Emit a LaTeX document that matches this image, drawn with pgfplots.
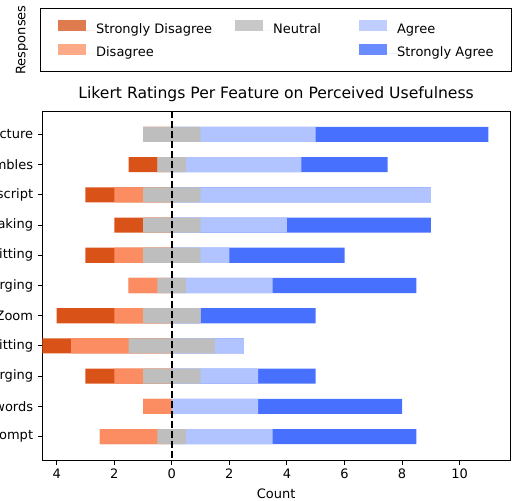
\documentclass[border=0pt]{standalone}
\usepackage{fontspec}
\setmainfont{DejaVu Sans}
\usepackage{pgfplots}
\usepackage{pgfplotstable}
\pgfplotsset{compat=1.18}
\definecolor{sdC}{RGB}{217,83,25}
\definecolor{dC}{RGB}{252,141,98}
\definecolor{nC}{RGB}{190,190,190}
\definecolor{aC}{RGB}{178,196,255}
\definecolor{saC}{RGB}{72,112,255}
\definecolor{sdL}{RGB}{224,122,79}
\definecolor{dL}{RGB}{253,170,136}
\definecolor{nL}{RGB}{200,200,200}
\definecolor{aL}{RGB}{192,206,255}
\definecolor{saL}{RGB}{106,140,255}
% segment ends: left side (SD, D, Neutral) and right side (Neutral, Agree, Strongly Agree)
\pgfplotstableread{
y lsd ld ln rn ra rsa
0 -1 -1 -1 1 5 11
1 -1.5 -0.5 -0.5 0.5 4.5 7.5
2 -3 -2 -1 1 9 9
3 -2 -1 -1 1 4 9
4 -3 -2 -1 1 2 6
5 -1.5 -1.5 -0.5 0.5 3.5 8.5
6 -4 -2 -1 1 1 5
7 -4.5 -3.5 -1.5 1.5 2.5 2.5
8 -3 -2 -1 1 3 5
9 -1 -1 0 0 3 8
10 -2.5 -2.5 -0.5 0.5 3.5 8.5
}\likert
\newcommand{\fs}{\fontsize{13}{15.6}\selectfont}
\begin{document}
\begin{tikzpicture}
\useasboundingbox (0pt,0pt) rectangle (512pt,501pt);
% legend box axis
\begin{axis}[
  at={(40.7pt,429pt)}, anchor=south west,
  scale only axis, width=470.3pt, height=63.7pt,
  xmin=0, xmax=1, ymin=0, ymax=1,
  xtick=\empty, ytick=\empty,
  axis line style={line width=1pt},
  legend columns=3,
  legend style={at={(0.5,0.5)}, anchor=center, draw=none, fill=none,
    inner sep=0pt, column sep=0pt, row sep=7pt, font=\fs,
    nodes={inner sep=0pt, anchor=west, text height=9.5pt, text depth=3.5pt}},
  legend image code/.code={\fill[#1] (0pt,-1pt) rectangle (28pt,10pt); \path (0pt,0pt) -- (38pt,0pt);},
]
\addlegendimage{fill=sdL, draw=none}
\addlegendentry{\makebox[139pt][l]{Strongly Disagree}}
\addlegendimage{fill=nL, draw=none}
\addlegendentry{\makebox[86pt][l]{Neutral}}
\addlegendimage{fill=aL, draw=none}
\addlegendentry{Agree}
\addlegendimage{fill=dL, draw=none}
\addlegendentry{\makebox[139pt][l]{Disagree}}
\addlegendimage{empty legend}
\addlegendentry{\makebox[86pt][l]{}}
\addlegendimage{fill=saL, draw=none}
\addlegendentry{Strongly Agree}
\end{axis}
\node[rotate=90, font=\fs, inner sep=0pt] at (22pt,461pt) {Responses};
% main axis
\begin{axis}[
  at={(42.3pt,41pt)}, anchor=south west,
  scale only axis, width=467.7pt, height=349pt,
  xbar, bar width=0.5, bar shift=0pt,
  y dir=reverse,
  xmin=-4.5, xmax=11.75, ymin=-0.775, ymax=10.775,
  ytick={0,...,10},
  yticklabels={cture,mbles,script,aking,itting,rging,Zoom,itting,rging,words,ompt},
  xtick={-4,-2,0,2,4,6,8,10},
  xticklabels={4,2,0,2,4,6,8,10},
  /pgf/number format/assume math mode=true,
  tick align=outside, tick pos=left,
  major tick length=4.5pt,
  tick style={black, line width=1pt},
  axis line style={line width=1pt},
  tick label style={font=\fs},
  yticklabel style={inner sep=0pt, anchor=east, xshift=-4.5pt},
  xticklabel style={inner sep=0pt, anchor=north, yshift=-4.5pt},
  xlabel={Count},
  xlabel style={font=\fs, inner sep=0pt, anchor=north, at={(axis description cs:0.5,0)}, yshift=-29pt},
  title={Likert Ratings Per Feature on Perceived Usefulness},
  title style={font=\fontsize{15.6}{18}\selectfont, inner sep=0pt, anchor=base, at={(axis description cs:0.5,1)}, yshift=7pt},
]
\addplot[draw=none, fill=sdC] table[x=lsd, y=y]{\likert};
\addplot[draw=none, fill=dC] table[x=ld, y=y]{\likert};
\addplot[draw=none, fill=nC] table[x=ln, y=y]{\likert};
\addplot[draw=none, fill=saC] table[x=rsa, y=y]{\likert};
\addplot[draw=none, fill=aC] table[x=ra, y=y]{\likert};
\addplot[draw=none, fill=nC] table[x=rn, y=y]{\likert};
\draw[black, line width=1.9pt, dash pattern=on 7pt off 3pt] (axis cs:0,-0.775) -- (axis cs:0,10.775);
\end{axis}
\end{tikzpicture}
\end{document}
